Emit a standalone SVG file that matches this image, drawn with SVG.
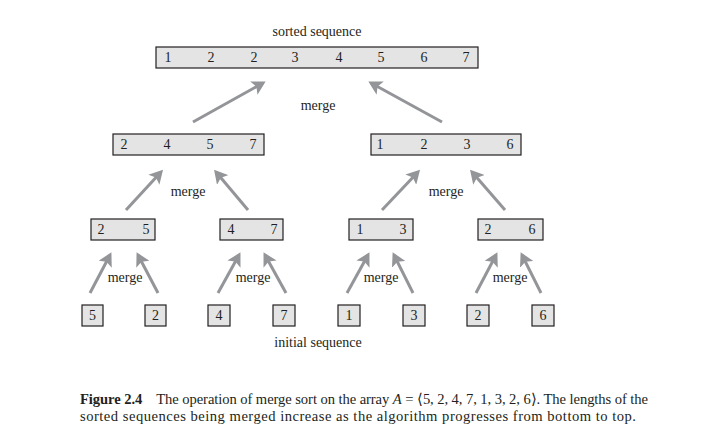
<svg xmlns="http://www.w3.org/2000/svg" width="724" height="438" viewBox="0 0 724 438">
<style>
  .box { fill: #e4e4e4; stroke: #231f20; stroke-width: 1.2; }
  .t { font-family: "Liberation Serif", "Times New Roman", serif; font-size: 14px; fill: #231f20; }
  .cap { font-size: 14.6px; }
  .n { text-anchor: middle; }
  .arr { stroke: #939598; stroke-width: 3; fill: none; marker-end: url(#ah); }
</style>
<defs>
  <marker id="ah" markerWidth="6" markerHeight="5" refX="3.5" refY="2.5" orient="auto" markerUnits="strokeWidth">
    <path d="M0,0 L4.5,2.5 L0,5 L1,2.5 Z" fill="#939598"/>
  </marker>
</defs>
<rect width="724" height="438" fill="#ffffff"/>

<text class="t n" x="317" y="36">sorted sequence</text>

<g id="top">
  <rect class="box" x="156" y="47" width="322" height="21"/>
  <text class="t n" y="62"><tspan x="168">1</tspan><tspan x="211">2</tspan><tspan x="254">2</tspan><tspan x="295">3</tspan><tspan x="339">4</tspan><tspan x="381">5</tspan><tspan x="424">6</tspan><tspan x="466">7</tspan></text>
</g>

<g id="l2a">
  <rect class="box" x="113" y="134" width="151" height="21"/>
  <text class="t n" y="149"><tspan x="124">2</tspan><tspan x="167">4</tspan><tspan x="210">5</tspan><tspan x="253">7</tspan></text>
</g>
<g id="l2b">
  <rect class="box" x="371" y="134" width="150" height="21"/>
  <text class="t n" y="149"><tspan x="380">1</tspan><tspan x="424">2</tspan><tspan x="467">3</tspan><tspan x="510">6</tspan></text>
</g>

<g id="l3a">
  <rect class="box" x="91" y="219" width="64" height="21"/>
  <text class="t n" y="234"><tspan x="101">2</tspan><tspan x="146">5</tspan></text>
</g>
<g id="l3b">
  <rect class="box" x="220" y="219" width="63" height="21"/>
  <text class="t n" y="234"><tspan x="231">4</tspan><tspan x="274">7</tspan></text>
</g>
<g id="l3c">
  <rect class="box" x="349" y="219" width="64" height="21"/>
  <text class="t n" y="234"><tspan x="360">1</tspan><tspan x="403">3</tspan></text>
</g>
<g id="l3d">
  <rect class="box" x="478" y="219" width="65" height="21"/>
  <text class="t n" y="234"><tspan x="488">2</tspan><tspan x="532">6</tspan></text>
</g>

<g id="l4a"><rect class="box" x="82" y="305" width="21" height="21"/><text class="t n" x="92.5" y="320">5</text></g>
<g id="l4b"><rect class="box" x="145" y="305" width="21" height="21"/><text class="t n" x="155.5" y="320">2</text></g>
<g id="l4c"><rect class="box" x="208" y="305" width="22" height="21"/><text class="t n" x="219" y="320">4</text></g>
<g id="l4d"><rect class="box" x="273" y="305" width="22" height="21"/><text class="t n" x="284" y="320">7</text></g>
<g id="l4e"><rect class="box" x="338" y="305" width="22" height="21"/><text class="t n" x="349" y="320">1</text></g>
<g id="l4f"><rect class="box" x="403" y="305" width="22" height="21"/><text class="t n" x="414" y="320">3</text></g>
<g id="l4g"><rect class="box" x="467" y="305" width="22" height="21"/><text class="t n" x="478" y="320">2</text></g>
<g id="l4h"><rect class="box" x="532" y="305" width="22" height="21"/><text class="t n" x="543" y="320">6</text></g>

<g id="connectors">
  <line class="arr" x1="193" y1="122" x2="263" y2="83"/>
  <line class="arr" x1="442" y1="122" x2="371" y2="83"/>
  <line class="arr" x1="126" y1="210" x2="161" y2="172"/>
  <line class="arr" x1="248" y1="210" x2="216" y2="172"/>
  <line class="arr" x1="382" y1="210" x2="418" y2="172"/>
  <line class="arr" x1="505" y1="210" x2="472" y2="172"/>
  <line class="arr" x1="90" y1="293" x2="110" y2="255"/>
  <line class="arr" x1="158" y1="293" x2="138" y2="255"/>
  <line class="arr" x1="218" y1="293" x2="239" y2="255"/>
  <line class="arr" x1="286" y1="293" x2="265" y2="255"/>
  <line class="arr" x1="347" y1="293" x2="368" y2="255"/>
  <line class="arr" x1="413" y1="293" x2="394" y2="255"/>
  <line class="arr" x1="476" y1="293" x2="496" y2="255"/>
  <line class="arr" x1="541" y1="293" x2="522" y2="255"/>
</g>

<g id="labels">
  <text class="t n" x="318" y="110">merge</text>
  <text class="t n" x="188" y="196">merge</text>
  <text class="t n" x="446" y="196">merge</text>
  <text class="t n" x="125" y="282">merge</text>
  <text class="t n" x="253" y="282">merge</text>
  <text class="t n" x="381" y="282">merge</text>
  <text class="t n" x="510" y="282">merge</text>
  <text class="t n" x="318" y="347">initial sequence</text>
</g>

<g id="caption">
  <text class="t cap" x="80" y="404" textLength="568"><tspan font-weight="bold">Figure 2.4</tspan><tspan dx="14">The operation of merge sort on the array </tspan><tspan font-style="italic">A</tspan> = ⟨5, 2, 4, 7, 1, 3, 2, 6⟩. The lengths of the</text>
  <text class="t cap" x="80" y="421" textLength="556">sorted sequences being merged increase as the algorithm progresses from bottom to top.</text>
</g>
</svg>
